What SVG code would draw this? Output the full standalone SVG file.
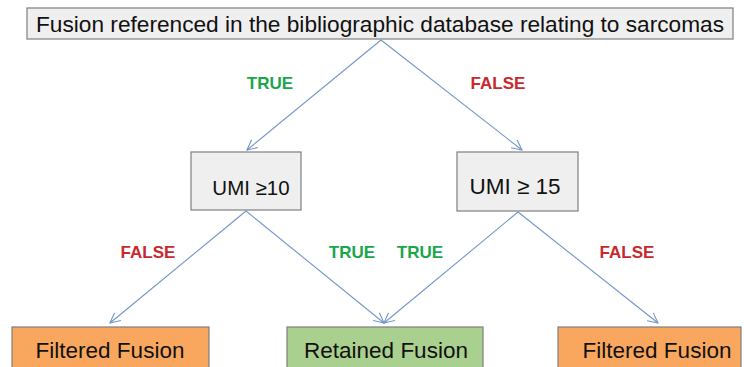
<svg xmlns="http://www.w3.org/2000/svg" width="744" height="367" viewBox="0 0 744 367">
  <defs>
    <style>
      .box { stroke: #7f7f7f; stroke-width: 1.2; }
      .cond { fill: #efefef; }
      .filtered { fill: #f9a75e; }
      .retained { fill: #a9d08e; }
      .txt { font-family: "Liberation Sans", Arial, sans-serif; font-size: 22.5px; fill: #111; text-anchor: middle; }
      .lbl { font-family: "Liberation Sans", Arial, sans-serif; font-size: 17px; font-weight: bold; text-anchor: middle; }
      .t { fill: #1aa64a; }
      .f { fill: #c8282e; }
      .edge { stroke: #7396c8; stroke-width: 1.1; fill: none; marker-end: url(#arrow); }
    </style>
    <marker id="arrow" markerUnits="userSpaceOnUse" markerWidth="14" markerHeight="14" viewBox="-12 -7 14 14" refX="0" refY="0" orient="auto">
      <path d="M -10 -5 L 0 0 L -10 5" fill="none" stroke="#7396c8" stroke-width="1.1"/>
    </marker>
  </defs>

  <rect width="744" height="367" fill="#ffffff"/>

  <!-- connectors -->
  <g id="connectors">
    <line class="edge" x1="381" y1="40" x2="247" y2="150"/>
    <line class="edge" x1="381" y1="40" x2="522" y2="150"/>
    <line class="edge" x1="246" y1="211" x2="110" y2="323"/>
    <line class="edge" x1="246" y1="211" x2="384" y2="323"/>
    <line class="edge" x1="518" y1="212" x2="384" y2="323"/>
    <line class="edge" x1="518" y1="212" x2="658" y2="323"/>
  </g>

  <!-- branch labels -->
  <g id="labels">
    <text class="lbl t" x="270" y="89">TRUE</text>
    <text class="lbl f" x="498" y="89">FALSE</text>
    <text class="lbl f" x="148" y="258">FALSE</text>
    <text class="lbl t" x="352" y="258">TRUE</text>
    <text class="lbl t" x="420" y="258">TRUE</text>
    <text class="lbl f" x="627" y="258">FALSE</text>
  </g>

  <g id="root">
    <rect class="box cond" x="27" y="8" width="706" height="31"/>
    <text class="txt" x="380" y="32" textLength="688" lengthAdjust="spacingAndGlyphs">Fusion referenced in the bibliographic database relating to sarcomas</text>
  </g>

  <g id="umi10">
    <rect class="box cond" x="191" y="152" width="110" height="58"/>
    <text class="txt" x="251" y="195" style="font-size:20.5px">UMI ≥10</text>
  </g>

  <g id="umi15">
    <rect class="box cond" x="457" y="152" width="121" height="59"/>
    <text class="txt" x="515" y="194">UMI ≥ 15</text>
  </g>

  <g id="filtered-left">
    <rect class="box filtered" x="12" y="327" width="197" height="50"/>
    <text class="txt" x="110" y="358">Filtered Fusion</text>
  </g>

  <g id="retained">
    <rect class="box retained" x="287" y="327" width="196" height="50"/>
    <text class="txt" x="386" y="358">Retained Fusion</text>
  </g>

  <g id="filtered-right">
    <rect class="box filtered" x="558" y="327" width="183" height="50"/>
    <text class="txt" x="657" y="358">Filtered Fusion</text>
  </g>
</svg>
